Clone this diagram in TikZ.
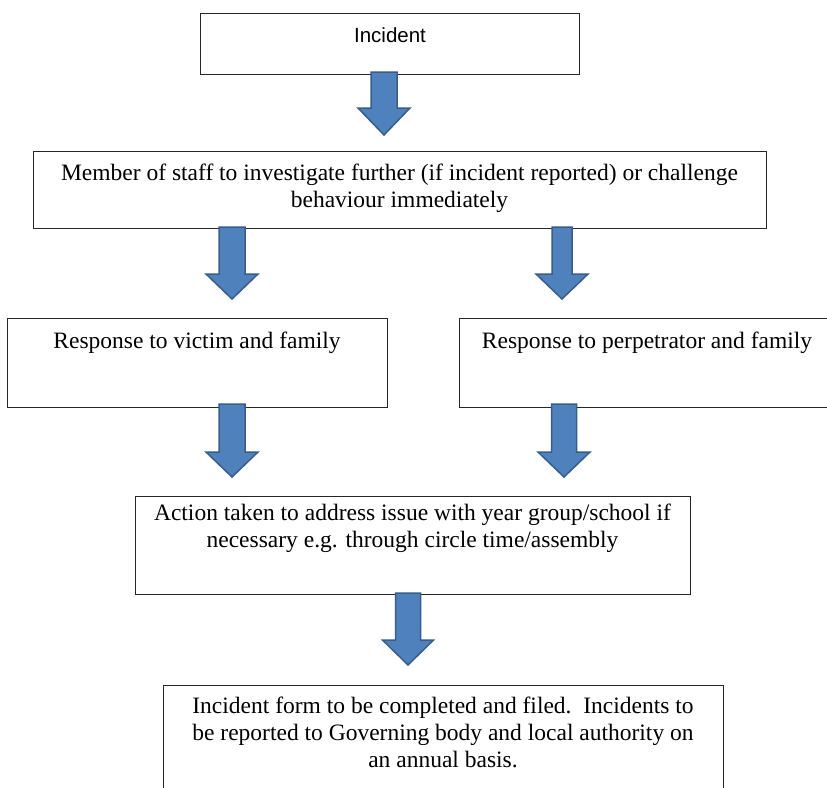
\documentclass[tikz,border=0pt]{standalone}
\usepackage{fontspec}
\setmainfont{Liberation Serif}
\newfontfamily\arialfont{Liberation Sans}
\definecolor{arrfill}{HTML}{4F81BD}
\definecolor{arrline}{HTML}{385D8A}
\newcommand\dnarrow[6]{%
  % cx, top, headstart, tip, shaft half, head half
  \draw[blockarrow] ({#1-#5},#2) -- ({#1+#5},#2) -- ({#1+#5},#3) -- ({#1+#6},#3)
    -- (#1,#4) -- ({#1-#6},#3) -- ({#1-#5},#3) -- cycle;}
\begin{document}
\begin{tikzpicture}[x=1pt,y=-1pt,
  box/.style={draw=black!85, line width=1.3pt, fill=white, rectangle, inner sep=0pt, anchor=north west},
  boxtext/.style={inner sep=0pt, align=center, font=\fontsize{23.5}{27}\selectfont},
  blockarrow/.style={fill=arrfill, draw=arrline, line width=1.5pt, line join=miter}]
\useasboundingbox[fill=white] (0,0) rectangle (827,787);
% boxes
\node[box, minimum width=379pt, minimum height=61pt] (b1) at (200,13) {};
\node[box, minimum width=733pt, minimum height=77pt] (b2) at (33,151) {};
\node[box, minimum width=380pt, minimum height=89pt] (b3l) at (7,318) {};
\node[box, minimum width=376pt, minimum height=89pt] (b3r) at (459,318) {};
\node[box, minimum width=555pt, minimum height=98pt] (b5) at (135,496) {};
\node[box, minimum width=560pt, minimum height=120pt] (b6) at (163,685) {};
% texts
\node[boxtext, anchor=base, font=\arialfont\fontsize{20.5}{26}\selectfont] (t1) at (390,42) {Incident};
\node[boxtext, anchor=north] (t2) at (399.5,164) {Member of staff to investigate further (if incident reported) or challenge\\behaviour immediately};
\node[boxtext, anchor=base] (t3l) at (197,348) {Response to victim and family};
\node[boxtext, anchor=base] (t3r) at (647,348) {Response to perpetrator and family};
\node[boxtext, anchor=north] (t5) at (412.5,504) {Action taken to address issue with year group/school if\\necessary e.g. through circle time/assembly};
\node[boxtext, anchor=north] (t6) at (443,697) {Incident form to be completed and filed.\ \ Incidents to\\be reported to Governing body and local authority on\\an annual basis.};
% block arrows
\dnarrow{384}{72}{108}{135}{13}{26}
\dnarrow{232}{227}{274}{299}{13}{26}
\dnarrow{562}{227}{274}{299}{10}{26}
\dnarrow{232}{404}{452}{477}{13}{26}
\dnarrow{564}{404}{452}{477}{12.5}{26}
\dnarrow{408}{593}{640}{665}{12.5}{25.5}
\end{tikzpicture}
\end{document}
